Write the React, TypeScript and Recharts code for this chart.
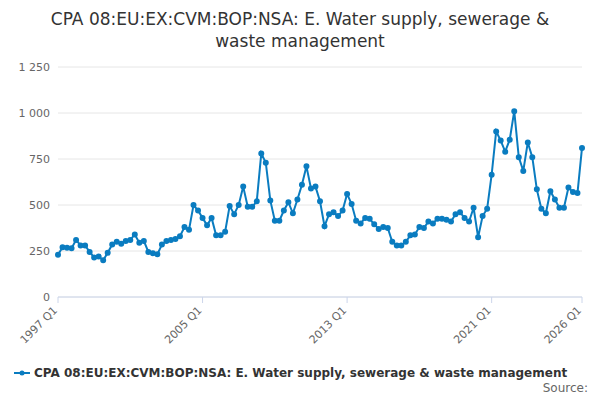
import React from "react";
import { LineChart, Line, XAxis, YAxis, CartesianGrid } from "recharts";

const years = Array.from({ length: 30 }, (_, i) => 1997 + i);
const categories: string[] = [];
years.forEach((y) => [1, 2, 3, 4].forEach((q) => { if (y < 2026 || q === 1) categories.push(`${y} Q${q}`); }));
const values = [
  230, 270, 268, 265, 310, 280, 280, 245, 215, 220, 200, 240, 285, 300, 290, 305,
  310, 340, 295, 305, 245, 238, 232, 285, 305, 310, 315, 330, 380, 365, 500, 470,
  430, 390, 430, 335, 335, 355, 495, 450, 500, 600, 490, 490, 520, 780, 730, 525,
  415, 415, 470, 515, 455, 530, 610, 710, 590, 600, 520, 385, 450, 460, 440, 470,
  560, 505, 415, 400, 430, 425, 395, 370, 380, 375, 300, 280, 280, 300, 335, 340,
  380, 375, 410, 400, 425, 425, 420, 410, 450, 460, 430, 410, 485, 325, 440, 480,
  665, 900, 850, 790, 855, 1010, 760, 685, 840, 760, 585, 480, 455, 575, 530, 485,
  485, 595, 570, 565, 810,
];
const xTicks = ["1997 Q1", "2005 Q1", "2013 Q1", "2021 Q1", "2026 Q1"];
const yTicks = [0, 250, 500, 750, 1000, 1250];
const seriesName = "CPA 08:EU:EX:CVM:BOP:NSA: E. Water supply, sewerage & waste management";
const data = categories.map((c, i) => ({ c, v: values[i] }));

const fmt = (v: number) => String(v).replace(/\B(?=(\d{3})+(?!\d))/g, " ");

const XTick = (props: any) => {
  const { x, y, payload } = props;
  return (
    <text x={x} y={y + 6} textAnchor="end" transform={`rotate(-45 ${x} ${y + 6})`} fill="#666" fontSize={11}>
      {payload.value}
    </text>
  );
};

export default function App() {
  return (
    <div style={{ width: 600, height: 400, position: "relative", margin: -8, fontFamily: "DejaVu Sans, sans-serif", background: "#fff", overflow: "hidden" }}>
      <div style={{ position: "absolute", top: 8, width: 600, textAlign: "center", fontSize: 17, color: "#333", lineHeight: "22px" }}>
        CPA 08:EU:EX:CVM:BOP:NSA: E. Water supply, sewerage &amp;<br />waste management
      </div>
      <div style={{ position: "absolute", top: 57 }}>
        <LineChart width={600} height={290} data={data} margin={{ top: 10, right: 18, left: 0, bottom: 0 }}>
          <CartesianGrid vertical={false} stroke="#e6e6e6" />
          <XAxis dataKey="c" ticks={xTicks} interval={0} tick={<XTick />} height={50} stroke="#ccd6eb" tickLine={{ stroke: "#ccd6eb" }} />
          <YAxis domain={[0, 1250]} ticks={yTicks} tickFormatter={fmt} axisLine={false} tickLine={false} width={58} tick={{ fill: "#666", fontSize: 11 }} />
          <Line dataKey="v" stroke="#0a7cc0" strokeWidth={2} dot={{ r: 2, fill: "#0a7cc0", stroke: "#0a7cc0" }} isAnimationActive={false} />
        </LineChart>
      </div>
      <div style={{ position: "absolute", top: 366, left: 14, fontSize: 12, fontWeight: "bold", color: "#333", display: "flex", alignItems: "center" }}>
        <svg width={16} height={10}><line x1={0} y1={5} x2={16} y2={5} stroke="#0a7cc0" strokeWidth={2} /><circle cx={8} cy={5} r={2.5} fill="#0a7cc0" /></svg>
        <span style={{ marginLeft: 4 }}>{seriesName}</span>
      </div>
      <div style={{ position: "absolute", top: 381, right: 12, fontSize: 12, lineHeight: "14px", color: "#666" }}>Source:</div>
    </div>
  );
}
